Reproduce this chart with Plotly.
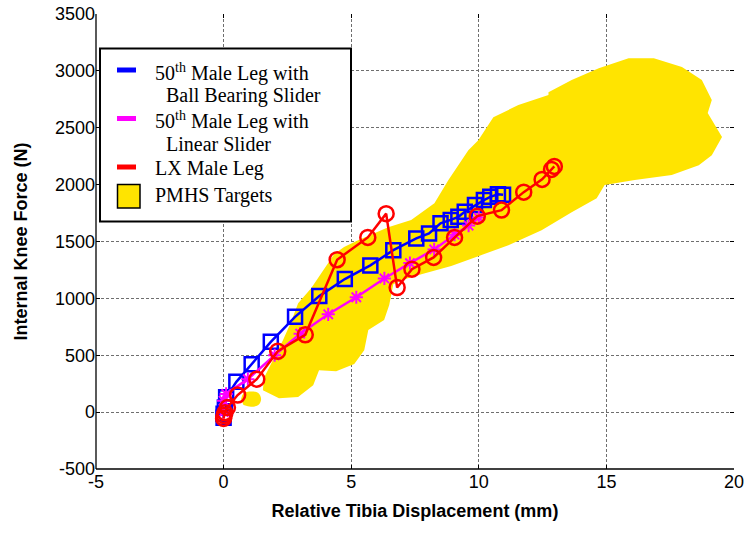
import plotly.graph_objects as go

# ---------------- data ----------------
# PMHS target corridor (outline of the yellow region)
pmhs_x = [2.64, 2.92, 3.43, 4.33, 4.72, 5.27, 6.45, 7.35, 8.26, 8.81, 9.59, 9.98, 10.57, 11.55,
          12.73, 12.73, 13.64, 14.70, 15.87, 16.86, 17.96, 18.74, 19.13, 18.97, 19.53, 19.13,
          18.62, 17.56, 16.11, 14.93, 14.62, 13.64, 12.46, 11.16, 9.98, 8.92, 7.75, 6.96, 6.65,
          6.49, 6.29, 5.67, 5.51, 5.12, 4.41, 3.74, 3.51, 2.92, 2.17, 1.54, 1.58, 1.94, 2.33]
pmhs_y = [791, 958, 1090, 1389, 1451, 1512, 1626, 1688, 1837, 2040, 2303, 2391, 2593, 2699,
          2787, 2813, 2919, 3024, 3112, 3112, 3033, 2919, 2743, 2629, 2418, 2259,
          2171, 2084, 2040, 1996, 1881, 1758, 1600, 1468, 1371, 1284, 1213, 1160, 1125,
          941, 809, 721, 545, 422, 360, 369, 237, 132, 123, 193, 299, 457, 633]
pmhs_small_x = [0.68, 0.78, 1.07, 1.36, 1.47, 1.36, 1.07, 0.78]
pmhs_small_y = [114, 165, 182, 168, 114, 62, 48, 62]

# 50th Male Leg with Ball Bearing Slider
blue_x = [0.0, 0.0, 0.05, 0.1, 0.5, 1.1, 1.85, 2.8, 3.75, 4.75, 5.75, 6.65, 7.55, 8.05,
          8.5, 8.9, 9.2, 9.45, 9.85, 10.2, 10.45, 10.75, 10.95]
blue_y = [-50, -15, 40, 130, 266, 420, 618, 838, 1020, 1170, 1290, 1424, 1527, 1571,
          1660, 1690, 1717, 1761, 1820, 1864, 1893, 1915, 1910]

# 50th Male Leg with Linear Slider
mag_x = [0.0, 0.0, 0.1, 0.95, 2.0, 3.0, 4.1, 5.2, 6.3, 7.3, 8.25, 9.05, 9.6, 10.0]
mag_y = [0, 100, 160, 290, 500, 690, 860, 1010, 1175, 1310, 1430, 1560, 1640, 1710]

# LX Male Leg
red_x = [0.0, 0.02, 0.05, 0.15, 0.55, 1.3, 2.12, 3.2, 4.45, 5.65, 6.37, 6.8, 7.38, 8.23,
         9.05, 9.94, 10.89, 11.76, 12.48, 12.85, 12.96]
red_y = [-55, -30, -5, 40, 150, 290, 535, 680, 1340, 1536, 1745, 1096, 1257, 1360,
         1536, 1723, 1776, 1934, 2046, 2134, 2160]

x_ticks = [-5, 0, 5, 10, 15, 20]
y_ticks = [-500, 0, 500, 1000, 1500, 2000, 2500, 3000, 3500]

legend_labels = ["50<sup>th</sup> Male Leg with", "Ball Bearing Slider",
                 "50<sup>th</sup> Male Leg with", "Linear Slider",
                 "LX Male Leg", "PMHS Targets"]

YELLOW = "#FFE400"
BLUE = "#0000FF"
MAG = "#FF00FF"
RED = "#FF0000"

fig = go.Figure()
fig.add_trace(go.Scatter(x=pmhs_x, y=pmhs_y, fill="toself", fillcolor=YELLOW,
                         mode="lines", line=dict(width=0, color=YELLOW), showlegend=False,
                         hoverinfo="skip"))
fig.add_trace(go.Scatter(x=pmhs_small_x, y=pmhs_small_y, fill="toself", fillcolor=YELLOW,
                         mode="lines", line=dict(width=0, color=YELLOW, shape="spline"),
                         showlegend=False, hoverinfo="skip"))
fig.add_trace(go.Scatter(x=blue_x, y=blue_y, mode="lines+markers",
                         line=dict(color=BLUE, width=2.5),
                         marker=dict(symbol="square-open", size=14, color=BLUE,
                                     line=dict(width=2.5, color=BLUE)),
                         showlegend=False))
fig.add_trace(go.Scatter(x=mag_x, y=mag_y, mode="lines+markers",
                         line=dict(color=MAG, width=2.5),
                         marker=dict(symbol="asterisk-open", size=11, color=MAG,
                                     line=dict(width=2, color=MAG)),
                         showlegend=False))
fig.add_trace(go.Scatter(x=red_x, y=red_y, mode="lines+markers",
                         line=dict(color=RED, width=2.5),
                         marker=dict(symbol="circle-open", size=15, color=RED,
                                     line=dict(width=2.5, color=RED)),
                         showlegend=False))

# plot area in pixels: x 96..734, y 14..469
L, R, T, B = 96, 734, 14, 469
W, H = R - L, B - T
def px(xp):
    return (xp - L) / W
def py(yp):
    return (B - yp) / H

shapes = []
# axis lines (left and bottom)
shapes.append(dict(type="line", xref="paper", yref="paper", x0=0, x1=0, y0=0, y1=1,
                   line=dict(color="black", width=1.3)))
shapes.append(dict(type="line", xref="paper", yref="paper", x0=0, x1=1, y0=0, y1=0,
                   line=dict(color="black", width=1.3)))
# legend box
shapes.append(dict(type="rect", xref="paper", yref="paper", x0=px(100), x1=px(351),
                   y0=py(221.5), y1=py(48.5), line=dict(color="black", width=2),
                   fillcolor="white", layer="above"))
for yy, col in [(70, BLUE), (118.5, MAG), (167, RED)]:
    shapes.append(dict(type="line", xref="paper", yref="paper", x0=px(117), x1=px(136),
                       y0=py(yy), y1=py(yy), line=dict(color=col, width=5), layer="above"))
shapes.append(dict(type="rect", xref="paper", yref="paper", x0=px(117.5), x1=px(140),
                   y0=py(208), y1=py(184.5), line=dict(color="black", width=1.5),
                   fillcolor=YELLOW, layer="above"))

annots = []
text_pos = [(153, 72), (164, 95.5), (153, 120.5), (164, 144), (153, 168.5), (153, 195.5)]
for (xx, yy), t in zip(text_pos, legend_labels):
    annots.append(dict(x=px(xx), y=py(yy), xref="paper", yref="paper", text=t,
                       showarrow=False, xanchor="left", yanchor="middle",
                       font=dict(family="Liberation Serif", size=20, color="black")))

axis_common = dict(showgrid=True, gridcolor="#6e6e6e", griddash="3px,2px", gridwidth=1,
                   zeroline=False, showline=False, ticks="inside", ticklen=4,
                   tickcolor="black", mirror="ticks", automargin=False,
                   tickfont=dict(family="Liberation Sans", size=18, color="black"))

fig.update_layout(
    width=746, height=533,
    margin=dict(l=L, r=746 - R, t=T, b=533 - B, autoexpand=False),
    paper_bgcolor="white", plot_bgcolor="white",
    showlegend=False,
    shapes=shapes, annotations=annots,
    font=dict(family="Liberation Sans", size=18, color="black"),
    xaxis=dict(range=[-5, 20], tickvals=x_ticks, ticktext=[str(v) for v in x_ticks],
               title=dict(text="<b>Relative Tibia Displacement (mm)</b>", standoff=13,
                          font=dict(family="Liberation Sans", size=18, color="black")),
               **axis_common),
    yaxis=dict(range=[-500, 3500], tickvals=y_ticks, ticktext=[str(v) for v in y_ticks],
               title=dict(text="<b>Internal Knee Force (N)</b>", standoff=22,
                          font=dict(family="Liberation Sans", size=18, color="black")),
               **axis_common),
)

fig.write_html("out.html", config={"displayModeBar": False},
               post_script="document.body.style.margin='0px';document.body.style.overflow='hidden';")
